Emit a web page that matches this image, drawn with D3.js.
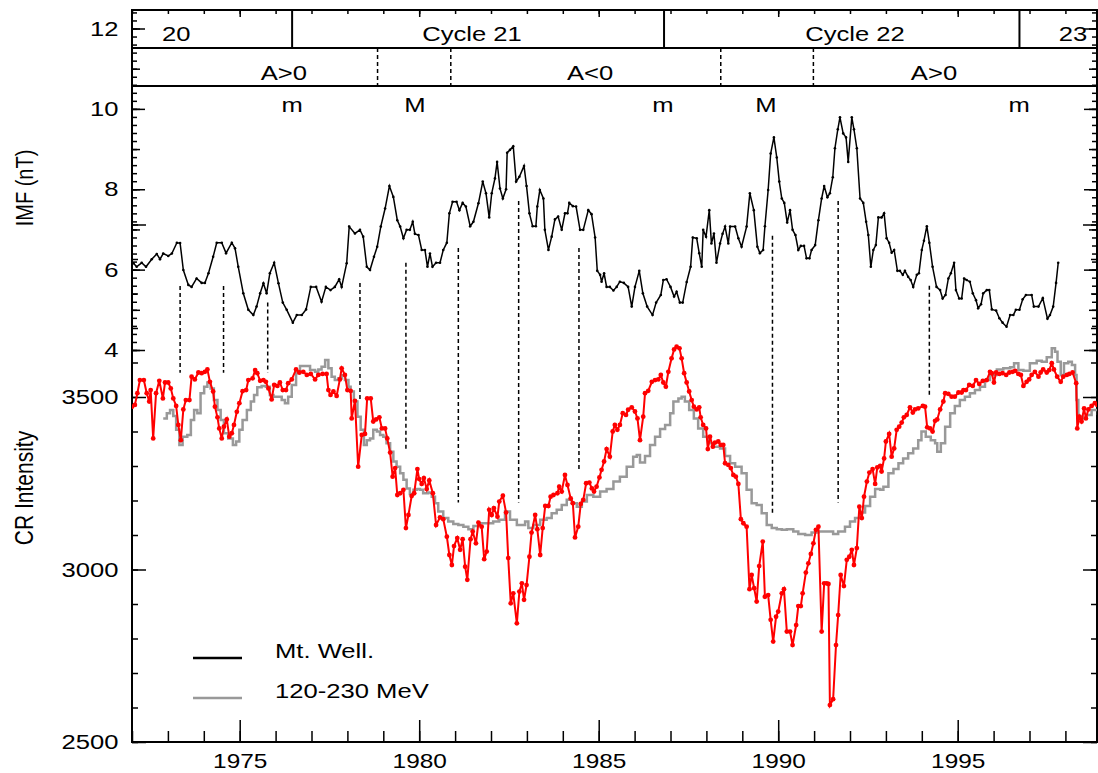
<!DOCTYPE html>
<html>
<head>
<meta charset="utf-8">
<script src="https://d3js.org/d3.v7.min.js"></script>
<style>
  body { margin: 0; background: #fff; }
  svg { display: block; font-family: "Liberation Sans", Arial, Helvetica, sans-serif; }
</style>
</head>
<body>
<svg width="1098" height="773"></svg>
<script>
// IMF magnitude (nT), [year, value]
const imfData = [
  [1972.04,6.16],[1972.13,6.07],[1972.27,6.17],[1972.39,6.07],[1972.55,6.26],[1972.69,6.39],[1972.78,6.26],[1972.87,6.40],
  [1973.01,6.34],[1973.11,6.40],[1973.25,6.67],[1973.34,6.66],[1973.43,5.99],[1973.57,5.62],[1973.66,5.57],[1973.80,5.78],
  [1973.94,5.67],[1974.03,5.67],[1974.13,5.91],[1974.26,6.32],[1974.36,6.67],[1974.50,6.67],[1974.62,6.41],[1974.78,6.67],
  [1974.87,6.53],[1974.96,6.07],[1975.10,5.41],[1975.24,5.00],[1975.38,4.87],[1975.47,5.08],[1975.57,5.41],[1975.66,5.66],
  [1975.75,5.41],[1975.84,5.91],[1975.96,6.17],[1976.08,5.66],[1976.20,5.18],[1976.31,5.00],[1976.48,4.68],[1976.59,4.87],
  [1976.73,4.87],[1976.85,5.01],[1976.98,5.57],[1977.13,5.57],[1977.28,5.20],[1977.40,5.57],[1977.53,5.49],[1977.65,5.57],
  [1977.77,5.76],[1977.84,5.57],[1977.98,6.16],[1978.05,7.07],[1978.21,6.90],[1978.35,6.99],[1978.44,6.82],[1978.54,6.07],
  [1978.63,5.99],[1978.74,6.32],[1978.83,6.57],[1978.93,7.07],[1979.05,7.52],[1979.17,8.08],[1979.28,7.81],[1979.39,7.23],
  [1979.47,7.07],[1979.56,6.78],[1979.65,6.99],[1979.74,6.99],[1979.82,7.19],[1979.88,6.89],[1979.98,6.86],[1980.07,6.49],
  [1980.16,6.49],[1980.23,6.07],[1980.30,6.40],[1980.37,6.07],[1980.47,6.17],[1980.58,6.17],[1980.67,6.49],[1980.77,6.67],
  [1980.84,7.40],[1980.93,7.69],[1981.04,7.69],[1981.12,7.48],[1981.21,7.66],[1981.30,7.57],[1981.42,7.08],[1981.51,7.19],
  [1981.65,7.65],[1981.77,8.19],[1981.86,7.90],[1981.95,7.30],[1982.02,7.90],[1982.11,8.27],[1982.17,8.68],[1982.25,8.02],
  [1982.33,7.77],[1982.42,8.00],[1982.45,8.91],[1982.53,8.98],[1982.62,9.07],[1982.70,8.19],[1982.79,8.31],[1982.92,8.58],
  [1982.99,8.08],[1983.07,7.40],[1983.16,7.08],[1983.25,7.08],[1983.29,7.57],[1983.36,7.98],[1983.46,7.77],[1983.50,6.99],
  [1983.60,6.49],[1983.69,6.82],[1983.78,7.25],[1983.87,7.32],[1983.97,6.99],[1984.06,7.40],[1984.13,7.40],[1984.18,7.66],
  [1984.28,7.58],[1984.37,7.57],[1984.48,6.99],[1984.57,6.99],[1984.71,7.48],[1984.80,7.38],[1984.90,6.80],[1984.96,5.97],
  [1985.04,5.87],[1985.08,5.70],[1985.15,5.91],[1985.22,5.57],[1985.31,5.57],[1985.41,5.48],[1985.50,5.57],[1985.59,5.70],
  [1985.70,5.67],[1985.82,5.57],[1985.92,5.08],[1986.01,5.57],[1986.13,5.97],[1986.23,5.41],[1986.35,5.08],[1986.50,4.87],
  [1986.60,5.18],[1986.73,5.37],[1986.80,5.74],[1986.89,5.76],[1987.00,5.57],[1987.10,5.33],[1987.17,5.45],[1987.26,5.18],
  [1987.34,5.18],[1987.45,5.69],[1987.56,6.07],[1987.62,6.80],[1987.73,6.78],[1987.80,6.41],[1987.87,6.07],[1987.91,6.99],
  [1987.99,6.82],[1988.08,7.48],[1988.14,6.65],[1988.21,6.90],[1988.28,6.17],[1988.38,6.65],[1988.45,6.89],[1988.52,7.07],
  [1988.61,6.65],[1988.66,7.07],[1988.80,7.07],[1988.89,6.78],[1988.98,6.57],[1989.12,7.07],[1989.21,7.90],[1989.32,7.48],
  [1989.42,6.57],[1989.49,6.41],[1989.58,6.49],[1989.63,7.08],[1989.72,7.98],[1989.79,8.89],[1989.88,9.29],[1989.96,8.79],
  [1990.03,8.19],[1990.10,7.77],[1990.17,7.66],[1990.25,7.17],[1990.33,7.48],[1990.40,6.99],[1990.48,6.86],[1990.56,6.49],
  [1990.63,6.59],[1990.72,6.59],[1990.79,6.28],[1990.87,6.28],[1990.93,6.49],[1991.03,6.61],[1991.12,7.23],[1991.21,7.77],
  [1991.28,8.08],[1991.37,7.80],[1991.44,7.90],[1991.52,8.30],[1991.58,9.02],[1991.66,9.49],[1991.72,9.79],[1991.81,9.39],
  [1991.89,9.29],[1991.95,8.68],[1992.05,9.79],[1992.11,9.49],[1992.19,9.02],[1992.28,7.77],[1992.37,7.66],[1992.45,7.19],
  [1992.51,6.86],[1992.58,6.07],[1992.65,6.49],[1992.72,6.61],[1992.79,7.30],[1992.88,7.30],[1992.95,7.40],[1993.02,6.78],
  [1993.09,6.67],[1993.16,6.42],[1993.23,6.49],[1993.32,5.97],[1993.39,5.97],[1993.47,5.87],[1993.53,5.97],[1993.62,5.82],
  [1993.69,5.74],[1993.76,5.57],[1993.86,5.87],[1993.92,5.91],[1994.00,6.49],[1994.06,6.72],[1994.14,7.08],[1994.21,6.67],
  [1994.30,6.07],[1994.41,5.57],[1994.51,5.49],[1994.58,5.28],[1994.66,5.37],[1994.74,5.78],[1994.81,5.91],[1994.90,6.17],
  [1994.95,5.49],[1995.04,5.28],[1995.11,5.28],[1995.18,5.78],[1995.25,5.74],[1995.34,5.70],[1995.42,5.41],[1995.51,5.24],
  [1995.57,5.04],[1995.65,5.14],[1995.71,5.41],[1995.81,5.49],[1995.88,5.49],[1995.95,5.01],[1996.07,4.98],[1996.16,4.79],
  [1996.25,4.68],[1996.36,4.58],[1996.46,4.87],[1996.55,4.87],[1996.62,5.00],[1996.72,5.00],[1996.81,5.26],[1996.90,5.37],
  [1997.06,5.37],[1997.12,5.08],[1997.25,5.08],[1997.37,5.29],[1997.50,4.78],[1997.57,4.87],[1997.66,5.08],[1997.74,5.67],
  [1997.80,6.17]
];

// Mt. Wellington neutron monitor, [year, count rate]
const mtWellData = [
  [1972.00,3472],[1972.08,3477],[1972.15,3511],[1972.22,3549],[1972.33,3549],[1972.41,3511],[1972.48,3487],[1972.52,3520],
  [1972.59,3380],[1972.67,3511],[1972.76,3547],[1972.86,3496],[1972.92,3542],[1973.01,3542],[1973.08,3525],[1973.15,3496],
  [1973.23,3474],[1973.29,3419],[1973.36,3375],[1973.43,3464],[1973.50,3491],[1973.60,3491],[1973.66,3559],[1973.75,3551],
  [1973.85,3571],[1973.94,3569],[1974.03,3573],[1974.10,3580],[1974.17,3544],[1974.26,3516],[1974.31,3472],[1974.38,3441],
  [1974.43,3409],[1974.50,3380],[1974.56,3414],[1974.64,3435],[1974.71,3385],[1974.78,3395],[1974.84,3419],[1974.92,3457],
  [1974.99,3482],[1975.08,3517],[1975.18,3520],[1975.24,3549],[1975.36,3554],[1975.43,3578],[1975.49,3569],[1975.57,3547],
  [1975.66,3549],[1975.73,3544],[1975.80,3525],[1975.89,3493],[1975.96,3535],[1976.05,3532],[1976.12,3542],[1976.20,3520],
  [1976.29,3520],[1976.35,3540],[1976.45,3551],[1976.57,3580],[1976.66,3571],[1976.77,3573],[1976.87,3564],[1976.98,3567],
  [1977.10,3551],[1977.19,3564],[1977.31,3567],[1977.42,3567],[1977.47,3520],[1977.53,3506],[1977.61,3516],[1977.70,3503],
  [1977.79,3551],[1977.84,3583],[1977.93,3564],[1978.00,3520],[1978.09,3518],[1978.12,3438],[1978.21,3489],[1978.30,3298],
  [1978.40,3390],[1978.49,3393],[1978.55,3496],[1978.65,3496],[1978.72,3429],[1978.80,3435],[1978.89,3441],[1978.96,3409],
  [1979.05,3409],[1979.11,3380],[1979.19,3339],[1979.26,3269],[1979.33,3294],[1979.39,3216],[1979.47,3221],[1979.56,3231],
  [1979.63,3120],[1979.70,3158],[1979.79,3213],[1979.86,3221],[1979.95,3291],[1980.00,3262],[1980.07,3248],[1980.13,3265],
  [1980.21,3233],[1980.28,3258],[1980.38,3221],[1980.47,3129],[1980.58,3151],[1980.67,3146],[1980.77,3095],[1980.84,3042],
  [1980.91,3013],[1980.97,3068],[1981.06,3091],[1981.14,3057],[1981.21,3088],[1981.28,3008],[1981.34,2970],[1981.43,3088],
  [1981.49,3110],[1981.58,3076],[1981.65,3136],[1981.74,3124],[1981.81,3030],[1981.88,3052],[1981.95,3173],[1982.02,3158],
  [1982.08,3178],[1982.18,3153],[1982.23,3197],[1982.33,3214],[1982.42,3165],[1982.48,3033],[1982.55,2902],[1982.62,2931],
  [1982.72,2844],[1982.79,2936],[1982.86,2960],[1982.92,2912],[1982.99,2955],[1983.07,3037],[1983.13,3107],[1983.23,3158],
  [1983.29,3117],[1983.37,3042],[1983.44,3120],[1983.51,3184],[1983.60,3184],[1983.66,3211],[1983.74,3216],[1983.85,3221],
  [1983.90,3240],[1983.97,3226],[1984.06,3274],[1984.13,3245],[1984.22,3206],[1984.28,3192],[1984.34,3093],[1984.43,3124],
  [1984.50,3190],[1984.57,3202],[1984.65,3250],[1984.74,3252],[1984.81,3235],[1984.87,3226],[1984.94,3240],[1985.02,3267],
  [1985.08,3289],[1985.15,3313],[1985.22,3349],[1985.31,3327],[1985.39,3400],[1985.45,3419],[1985.52,3405],[1985.59,3419],
  [1985.67,3453],[1985.76,3448],[1985.82,3463],[1985.92,3470],[1986.01,3458],[1986.08,3438],[1986.15,3375],[1986.24,3443],
  [1986.29,3511],[1986.38,3518],[1986.48,3544],[1986.57,3549],[1986.66,3551],[1986.73,3564],[1986.80,3542],[1986.87,3530],
  [1986.94,3573],[1987.03,3612],[1987.10,3638],[1987.17,3646],[1987.25,3641],[1987.31,3612],[1987.38,3569],[1987.45,3542],
  [1987.52,3516],[1987.59,3491],[1987.65,3472],[1987.73,3464],[1987.80,3470],[1987.84,3441],[1987.91,3419],[1987.99,3409],
  [1988.04,3349],[1988.10,3385],[1988.18,3356],[1988.24,3368],[1988.33,3371],[1988.40,3361],[1988.47,3361],[1988.52,3308],
  [1988.61,3303],[1988.68,3294],[1988.75,3274],[1988.82,3269],[1988.89,3248],[1988.96,3146],[1989.03,3134],[1989.12,3124],
  [1989.20,2943],[1989.26,2984],[1989.33,2946],[1989.40,2907],[1989.47,3010],[1989.57,3081],[1989.63,2921],[1989.72,2926],
  [1989.79,2854],[1989.86,2791],[1989.94,2863],[1990.00,2878],[1990.10,2931],[1990.16,2943],[1990.24,2820],[1990.33,2820],
  [1990.40,2781],[1990.50,2839],[1990.56,2894],[1990.63,2894],[1990.68,2931],[1990.77,2991],[1990.84,3018],[1990.91,3045],
  [1990.98,3076],[1991.05,3115],[1991.12,3124],[1991.21,2820],[1991.28,2960],[1991.35,2960],[1991.40,2958],[1991.44,2607],
  [1991.53,2624],[1991.61,2781],[1991.67,2868],[1991.74,2984],[1991.83,2952],[1991.91,3028],[1991.98,3037],[1992.05,3057],
  [1992.11,3013],[1992.19,3062],[1992.26,3182],[1992.33,3149],[1992.39,3211],[1992.47,3255],[1992.54,3281],[1992.63,3291],
  [1992.70,3248],[1992.76,3296],[1992.84,3300],[1992.88,3284],[1992.95,3322],[1993.00,3371],[1993.09,3393],[1993.16,3327],
  [1993.23,3351],[1993.30,3405],[1993.37,3414],[1993.44,3426],[1993.50,3441],[1993.58,3448],[1993.67,3470],[1993.75,3455],
  [1993.81,3464],[1993.90,3467],[1994.03,3474],[1994.09,3472],[1994.15,3412],[1994.23,3409],[1994.30,3400],[1994.37,3431],
  [1994.43,3435],[1994.51,3464],[1994.60,3487],[1994.65,3511],[1994.74,3509],[1994.83,3501],[1994.92,3501],[1995.02,3513],
  [1995.11,3513],[1995.16,3520],[1995.23,3520],[1995.32,3535],[1995.42,3532],[1995.51,3549],[1995.60,3538],[1995.70,3547],
  [1995.81,3549],[1995.90,3573],[1995.95,3569],[1996.01,3542],[1996.07,3571],[1996.16,3567],[1996.25,3569],[1996.35,3564],
  [1996.44,3571],[1996.53,3573],[1996.60,3576],[1996.69,3567],[1996.76,3564],[1996.83,3532],[1996.92,3544],[1996.99,3551],
  [1997.06,3564],[1997.15,3573],[1997.25,3559],[1997.31,3571],[1997.38,3580],[1997.48,3571],[1997.55,3578],[1997.62,3598],
  [1997.68,3580],[1997.77,3559],[1997.87,3544],[1997.94,3559],[1998.04,3564],[1998.11,3567],[1998.20,3571],[1998.30,3540],
  [1998.33,3409],[1998.39,3443],[1998.45,3429],[1998.52,3467],[1998.57,3438],[1998.64,3464],[1998.73,3474],[1998.82,3482],
  [1998.89,3477]
];

// 120-230 MeV channel, [year, scaled intensity]
const gammaData = [
  [1972.87,3438],[1972.97,3453],[1973.06,3462],[1973.15,3445],[1973.23,3405],[1973.32,3361],[1973.41,3385],[1973.54,3390],
  [1973.64,3433],[1973.73,3462],[1973.82,3453],[1973.91,3511],[1974.01,3530],[1974.10,3542],[1974.19,3525],[1974.28,3491],
  [1974.38,3462],[1974.47,3433],[1974.56,3395],[1974.68,3380],[1974.81,3361],[1974.90,3371],[1974.99,3405],[1975.08,3433],
  [1975.20,3462],[1975.31,3487],[1975.40,3506],[1975.49,3528],[1975.61,3532],[1975.73,3530],[1975.84,3506],[1975.94,3501],
  [1976.05,3501],[1976.17,3491],[1976.26,3482],[1976.35,3501],[1976.45,3535],[1976.57,3569],[1976.68,3590],[1976.82,3590],
  [1976.96,3578],[1977.10,3573],[1977.19,3580],[1977.28,3588],[1977.38,3607],[1977.47,3583],[1977.56,3559],[1977.65,3549],
  [1977.75,3554],[1977.84,3564],[1977.93,3549],[1978.03,3530],[1978.09,3516],[1978.18,3487],[1978.28,3443],[1978.37,3405],
  [1978.46,3361],[1978.54,3375],[1978.63,3380],[1978.72,3405],[1978.82,3400],[1978.91,3390],[1979.00,3385],[1979.09,3366],
  [1979.19,3341],[1979.28,3313],[1979.37,3298],[1979.47,3279],[1979.56,3260],[1979.65,3235],[1979.74,3219],[1979.84,3231],
  [1979.93,3233],[1980.02,3231],[1980.11,3221],[1980.25,3223],[1980.35,3211],[1980.44,3192],[1980.53,3168],[1980.67,3149],
  [1980.81,3139],[1980.95,3132],[1981.09,3129],[1981.23,3124],[1981.37,3117],[1981.51,3126],[1981.69,3134],[1981.88,3134],
  [1982.06,3139],[1982.23,3144],[1982.39,3168],[1982.53,3144],[1982.72,3129],[1982.86,3129],[1982.95,3139],[1983.04,3120],
  [1983.18,3129],[1983.37,3144],[1983.55,3149],[1983.69,3163],[1983.83,3173],[1983.97,3187],[1984.11,3202],[1984.25,3192],
  [1984.39,3182],[1984.53,3197],[1984.67,3216],[1984.85,3211],[1985.04,3226],[1985.22,3233],[1985.41,3255],[1985.59,3269],
  [1985.78,3298],[1985.96,3327],[1986.06,3332],[1986.15,3310],[1986.29,3329],[1986.43,3361],[1986.57,3385],[1986.71,3407],
  [1986.85,3419],[1986.99,3453],[1987.08,3487],[1987.22,3496],[1987.31,3501],[1987.40,3487],[1987.52,3462],[1987.65,3438],
  [1987.77,3409],[1987.91,3385],[1988.05,3366],[1988.19,3356],[1988.38,3351],[1988.52,3329],[1988.66,3308],[1988.80,3298],
  [1988.98,3279],[1989.12,3231],[1989.26,3192],[1989.40,3187],[1989.54,3163],[1989.68,3129],[1989.82,3120],[1989.96,3117],
  [1990.10,3115],[1990.24,3117],[1990.42,3110],[1990.56,3103],[1990.75,3100],[1990.93,3107],[1991.12,3110],[1991.35,3110],
  [1991.53,3103],[1991.67,3110],[1991.86,3124],[1992.00,3139],[1992.14,3149],[1992.28,3165],[1992.42,3184],[1992.56,3211],
  [1992.70,3233],[1992.84,3231],[1992.93,3240],[1993.07,3279],[1993.21,3291],[1993.35,3308],[1993.48,3322],[1993.62,3337],
  [1993.76,3351],[1993.90,3375],[1993.99,3400],[1994.11,3385],[1994.25,3375],[1994.37,3366],[1994.43,3341],[1994.53,3366],
  [1994.65,3414],[1994.79,3453],[1994.92,3474],[1995.06,3491],[1995.20,3501],[1995.34,3511],[1995.48,3520],[1995.62,3530],
  [1995.76,3549],[1995.90,3564],[1996.09,3580],[1996.27,3583],[1996.46,3586],[1996.57,3598],[1996.69,3578],[1996.83,3576],
  [1997.01,3598],[1997.20,3605],[1997.34,3602],[1997.48,3615],[1997.62,3641],[1997.71,3631],[1997.78,3602],[1997.87,3564],
  [1997.96,3598],[1998.08,3602],[1998.18,3593],[1998.27,3564],[1998.31,3491],[1998.36,3443],[1998.48,3438],[1998.59,3448],
  [1998.73,3462],[1998.91,3448]
];

// dashed markers between the panels: [year, IMF at top, CR at bottom]
const eventLines = [
  [1973.34,5.59,3570],[1974.55,5.59,3570],[1975.78,5.18,3570],[1978.35,5.67,3486],
  [1979.63,6.17,3341],[1981.09,6.54,3194],[1982.77,7.71,3194],[1984.45,6.54,3285],
  [1989.84,6.84,3158],[1991.67,7.71,3194],[1994.21,5.60,3501]
];

const cycleEdges = [1976.46, 1986.82, 1996.72];
const cycleLabels = [[1973.23,'20'],[1981.47,'Cycle 21'],[1992.14,'Cycle 22'],[1998.21,'23']];
const polarityEdges = [1978.84, 1980.88, 1988.40, 1990.98];
const polarityLabels = [[1976.23,'A>0'],[1984.76,'A<0'],[1994.34,'A>0']];
const phaseLabels = [[1976.46,'m'],[1979.88,'M'],[1986.79,'m'],[1989.66,'M'],[1996.71,'m']];

const yearLabels = [1975, 1980, 1985, 1990, 1995];
const imfLabels = [4, 6, 8, 10, 12];
const crLabels = [2500, 3000, 3500];
const legendNames = ['Mt. Well.', '120-230 MeV'];
const legendColors = ['#000', '#999'];

const xLeft = 132, xRight = 1097, yTop = 10, yBottom = 742;
const row1 = 48, row2 = 86;
const SX = 1.22; // the source figure is stretched sideways, so is its lettering
const FONT = '"Liberation Sans", Arial, sans-serif';

const xScale = d3.scaleLinear().domain([1972, 1998.88]).range([xLeft, xRight]);
const imfScale = d3.scaleLinear().domain([4, 12]).range([350, 28.5]);
const crScale = d3.scaleLinear().domain([2500, 3500]).range([yBottom, 397]);

const svg = d3.select('svg');

function label(x, y, str, size, anchor) {
    return svg.append('text')
        .attr('transform', `translate(${x},${y}) scale(${SX},1)`)
        .attr('text-anchor', anchor || 'middle')
        .attr('font-size', size)
        .text(str);
}

function tickSet(g, axis) {
    g.call(axis);
    g.select('.domain').remove();
    g.selectAll('line').attr('stroke-width', 1.5);
    return g;
}

const years = d3.range(1972, 1999);
const imfMinor = d3.range(40, 125, 2).map(d => d / 10);
const imfMid = d3.range(4, 13);
const crMinor = d3.range(2500, 4001, 100);
const crMajor = [2500, 3000, 3500, 4000];

// left + right axes
[[d3.axisLeft, xLeft], [d3.axisRight, xRight]].forEach(([axisFn, xPos], side) => {
    const g = svg.append('g').attr('transform', `translate(${xPos},0)`);
    tickSet(g.append('g'), axisFn(imfScale).tickValues(imfMinor).tickSize(-5).tickFormat(''));
    tickSet(g.append('g'), axisFn(imfScale).tickValues(imfMid).tickSize(-8).tickFormat(''));
    tickSet(g.append('g'), axisFn(crScale).tickValues(crMinor).tickSize(-6).tickFormat(''));
    const fmt = side === 0 ? (d => d) : (() => '');
    tickSet(g.append('g'), axisFn(imfScale).tickValues(imfLabels).tickSize(-13).tickFormat(fmt));
    tickSet(g.append('g'), axisFn(crScale).tickValues(crMajor).tickSize(-14)
        .tickFormat(d => side === 0 && crLabels.includes(d) ? d : ''));
    g.selectAll('text')
        .attr('x', -11)
        .attr('transform', `scale(${SX},1)`)
        .attr('font-size', 21)
        .attr('font-family', FONT);
});

// bottom + top axes
const gb = svg.append('g').attr('transform', `translate(0,${yBottom})`);
tickSet(gb.append('g'), d3.axisBottom(xScale).tickValues(years).tickSize(-11).tickFormat(''));
tickSet(gb.append('g'), d3.axisBottom(xScale).tickValues(yearLabels).tickSize(-22).tickPadding(12).tickFormat(d => d));
gb.selectAll('text')
    .attr('transform', `scale(${SX},1)`)
    .attr('font-size', 20)
    .attr('font-family', FONT);

const gt = svg.append('g').attr('transform', `translate(0,${yTop})`);
tickSet(gt.append('g'), d3.axisTop(xScale).tickValues(years).tickSize(-4).tickFormat(''));
tickSet(gt.append('g'), d3.axisTop(xScale).tickValues(yearLabels).tickSize(-7).tickFormat(''));

// frame and header rows
svg.append('rect')
    .attr('x', xLeft).attr('y', yTop)
    .attr('width', xRight - xLeft).attr('height', yBottom - yTop)
    .attr('fill', 'none').attr('stroke', '#000').attr('stroke-width', 2);

svg.selectAll('.row-line')
    .data([row1, row2])
    .enter()
    .append('line')
    .attr('x1', xLeft).attr('x2', xRight)
    .attr('y1', d => d).attr('y2', d => d)
    .attr('stroke', '#000').attr('stroke-width', 2);

svg.selectAll('.cycle-edge')
    .data(cycleEdges)
    .enter()
    .append('line')
    .attr('x1', d => xScale(d)).attr('x2', d => xScale(d))
    .attr('y1', yTop).attr('y2', row1)
    .attr('stroke', '#000').attr('stroke-width', 2);

svg.selectAll('.pol-edge')
    .data(polarityEdges)
    .enter()
    .append('line')
    .attr('x1', d => xScale(d)).attr('x2', d => xScale(d))
    .attr('y1', row1).attr('y2', row2)
    .attr('stroke', '#000').attr('stroke-width', 1.5)
    .attr('stroke-dasharray', '4,3');

cycleLabels.forEach(([yr, t]) => label(xScale(yr), 41, t, 21));
polarityLabels.forEach(([yr, t]) => label(xScale(yr), 80, t, 21));
phaseLabels.forEach(([yr, t]) => label(xScale(yr), 112, t, 21));

// data
svg.append('clipPath').attr('id', 'plot-clip')
    .append('rect')
    .attr('x', xLeft).attr('y', yTop)
    .attr('width', xRight - xLeft).attr('height', yBottom - yTop);

const plot = svg.append('g').attr('clip-path', 'url(#plot-clip)');

plot.selectAll('.event')
    .data(eventLines)
    .enter()
    .append('line')
    .attr('x1', d => xScale(d[0])).attr('x2', d => xScale(d[0]))
    .attr('y1', d => imfScale(d[1])).attr('y2', d => crScale(d[2]))
    .attr('stroke', '#000').attr('stroke-width', 1.5)
    .attr('stroke-dasharray', '4,3');

plot.append('path')
    .datum(gammaData)
    .attr('fill', 'none')
    .attr('stroke', '#999')
    .attr('stroke-width', 2.5)
    .attr('d', d3.line().curve(d3.curveStepAfter)
        .x(d => xScale(d[0])).y(d => crScale(d[1])));

plot.append('path')
    .datum(mtWellData)
    .attr('fill', 'none')
    .attr('stroke', '#ff0000')
    .attr('stroke-width', 2)
    .attr('d', d3.line().x(d => xScale(d[0])).y(d => crScale(d[1])));

plot.selectAll('.cr-dot')
    .data(mtWellData)
    .enter()
    .append('circle')
    .attr('cx', d => xScale(d[0]))
    .attr('cy', d => crScale(d[1]))
    .attr('r', 2.4)
    .attr('fill', '#ff0000');

plot.append('path')
    .datum(imfData)
    .attr('fill', 'none')
    .attr('stroke', '#000')
    .attr('stroke-width', 1.5)
    .attr('d', d3.line().x(d => xScale(d[0])).y(d => imfScale(d[1])));

plot.selectAll('.imf-dot')
    .data(imfData)
    .enter()
    .append('circle')
    .attr('cx', d => xScale(d[0]))
    .attr('cy', d => imfScale(d[1]))
    .attr('r', 1.3)
    .attr('fill', '#000');

// axis titles
svg.append('text')
    .attr('transform', `translate(24,188) scale(${SX},1) rotate(-90)`)
    .attr('text-anchor', 'middle').attr('dy', '0.35em')
    .attr('font-size', 20)
    .text('IMF (nT)');
svg.append('text')
    .attr('transform', `translate(24,488) scale(${SX},1) rotate(-90)`)
    .attr('text-anchor', 'middle').attr('dy', '0.35em')
    .attr('font-size', 21)
    .text('CR Intensity');

// legend
legendNames.forEach((name, i) => {
    const y = 658 + i * 40;
    svg.append('line')
        .attr('x1', 193).attr('x2', 242)
        .attr('y1', y).attr('y2', y)
        .attr('stroke', legendColors[i]).attr('stroke-width', 2.5);
    label(275, y, name, 21, 'start');
});
</script>
</body>
</html>
